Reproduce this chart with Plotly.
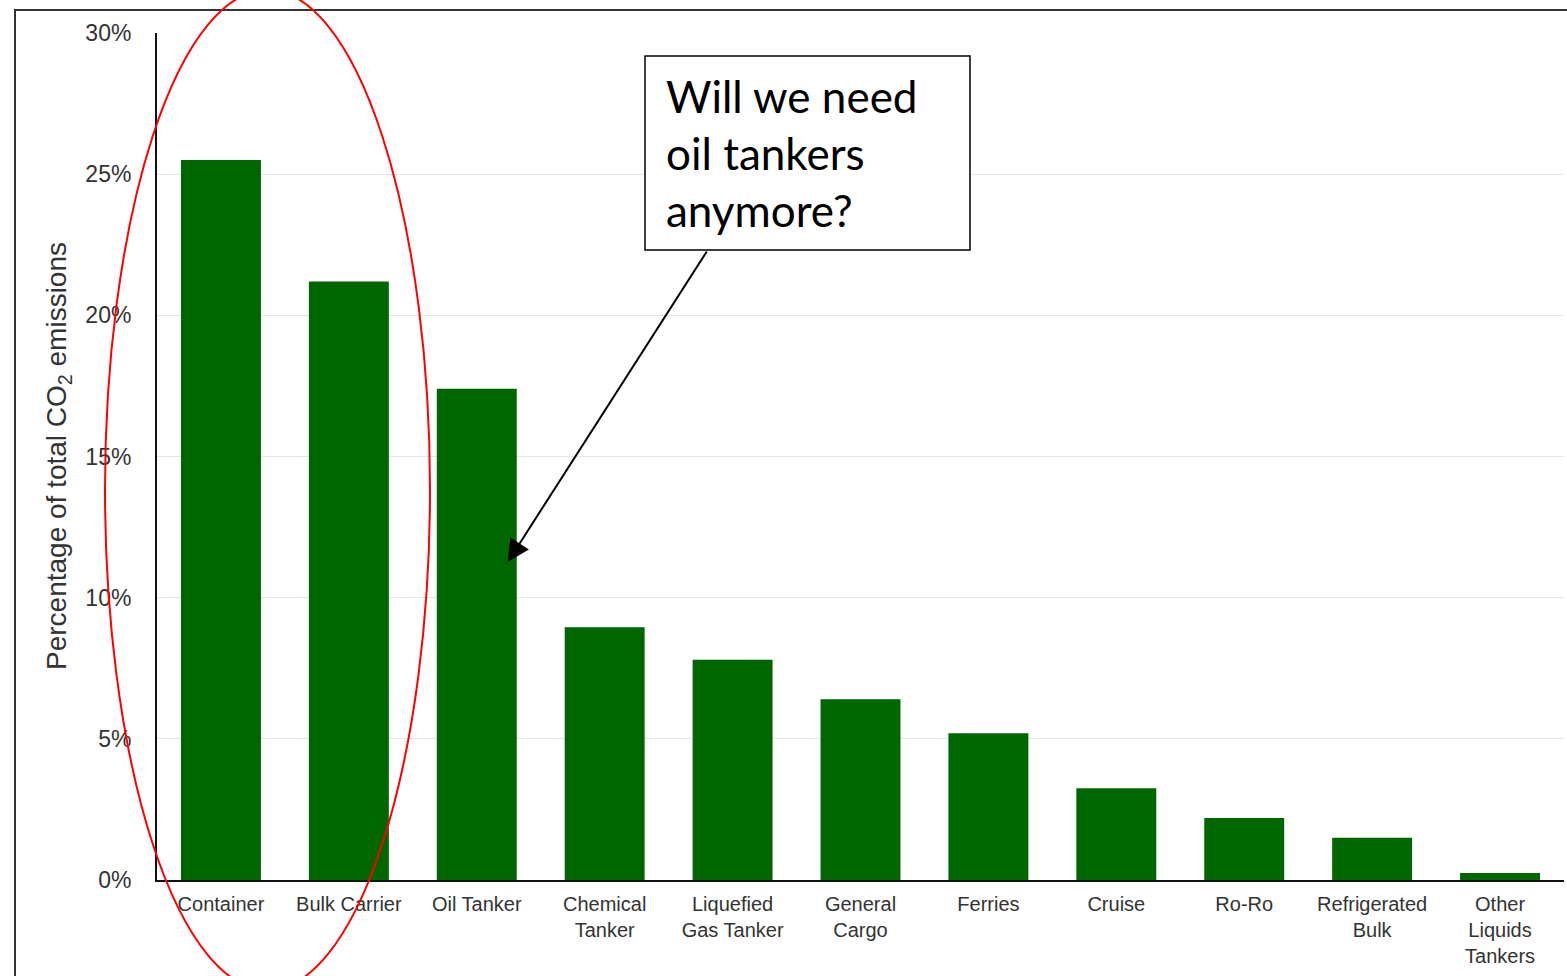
import plotly.graph_objects as go

# Share of total shipping CO2 emissions by ship type (%)
ship_types = [
    "Container", "Bulk Carrier", "Oil Tanker", "Chemical<br>Tanker",
    "Liquefied<br>Gas Tanker", "General<br>Cargo", "Ferries", "Cruise",
    "Ro-Ro", "Refrigerated<br>Bulk", "Other<br>Liquids<br>Tankers",
]
emission_share = [25.5, 21.2, 17.4, 8.95, 7.8, 6.4, 5.2, 3.25, 2.2, 1.5, 0.25]

y_ticks = [0, 5, 10, 15, 20, 25, 30]
y_tick_text = [f"{v}%" for v in y_ticks]

W, H = 1567, 976
L, R, T, B = 157, 3, 33, 96
PW, PH = W - L - R, H - T - B


def px(x):
    return (x - L) / PW


def py(y):
    return (H - B - y) / PH


fig = go.Figure(
    go.Bar(
        x=list(range(len(ship_types))),
        y=emission_share,
        marker=dict(color="#006600", line=dict(width=0)),
        width=0.625,
    )
)

fig.update_layout(
    width=W,
    height=H,
    margin=dict(l=L, r=R, t=T, b=B),
    paper_bgcolor="white",
    plot_bgcolor="white",
    showlegend=False,
    font=dict(family="Liberation Sans, Arial, sans-serif", color="#333333"),
)

fig.update_xaxes(
    range=[-0.5, len(ship_types) - 0.5],
    tickmode="array",
    tickvals=list(range(len(ship_types))),
    ticktext=ship_types,
    tickfont=dict(size=20, color="#333333"),
    showline=True,
    linecolor="#111111",
    linewidth=2,
    ticks="",
    showgrid=False,
    zeroline=False,
    ticklabelstandoff=5,
)

fig.update_yaxes(
    range=[0, 30],
    tickmode="array",
    tickvals=y_ticks,
    ticktext=y_tick_text,
    tickfont=dict(size=23, color="#333333"),
    showline=True,
    linecolor="#111111",
    linewidth=2,
    ticks="",
    showgrid=True,
    gridcolor="#e6e6e6",
    gridwidth=1,
    zeroline=False,
    ticklabelstandoff=19,
)

# y-axis title
fig.add_annotation(
    xref="paper", yref="paper",
    x=px(59), y=py(456),
    xanchor="center", yanchor="middle",
    text="Percentage of total CO<sub>2</sub> emissions",
    textangle=-90,
    showarrow=False,
    font=dict(size=28, color="#333333"),
)

# outer frame
fig.add_shape(
    type="rect", xref="paper", yref="paper",
    x0=px(15), x1=px(1600), y0=py(1010), y1=py(10),
    line=dict(color="#333333", width=2),
    fillcolor="rgba(0,0,0,0)",
    layer="above",
)

# red ellipse around the two largest categories
fig.add_shape(
    type="circle", xref="paper", yref="paper",
    x0=px(105), x1=px(430), y0=py(990), y1=py(-10),
    line=dict(color="#ff0000", width=2),
    fillcolor="rgba(0,0,0,0)",
    layer="above",
)

# callout box
fig.add_shape(
    type="rect", xref="paper", yref="paper",
    x0=px(645), x1=px(970), y0=py(250), y1=py(56),
    line=dict(color="#000000", width=1.5),
    fillcolor="white",
    layer="above",
)
fig.add_annotation(
    xref="paper", yref="paper",
    x=px(664), y=py(153),
    xanchor="left", yanchor="middle",
    align="left",
    text="Will we need<br>oil tankers<br>anymore?",
    showarrow=False,
    font=dict(family="Lato, Carlito, sans-serif", size=44, color="#000000"),
)

# arrow from the callout to the oil tanker bar
fig.add_annotation(
    xref="x", yref="y",
    x=(508 - L) / 128 - 0.5, y=(H - B - 562) / (PH / 30),
    ax=200, ay=-312,
    text="",
    showarrow=True,
    arrowhead=2,
    arrowsize=2.2,
    arrowwidth=2,
    arrowcolor="#000000",
)

fig.write_html("out.html")
